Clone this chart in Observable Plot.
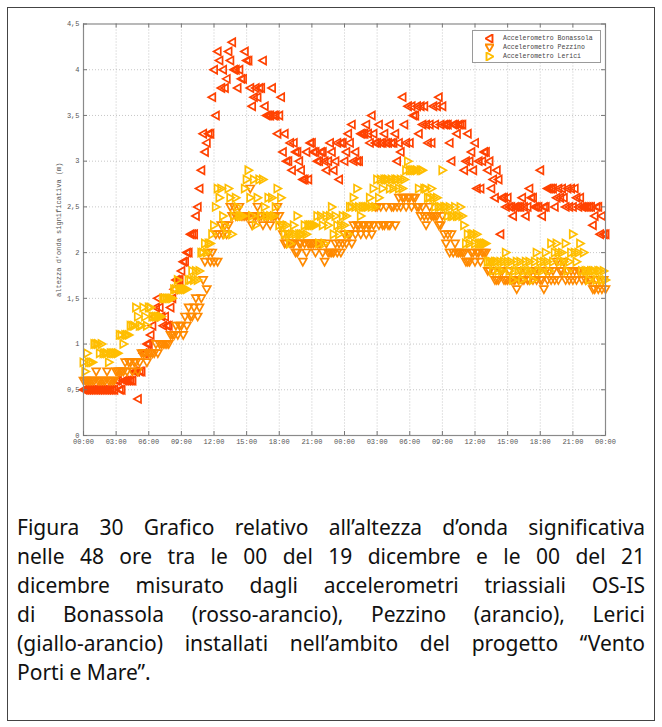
<!DOCTYPE html>
<html>
<head>
<meta charset="utf-8">
<script src="https://cdn.jsdelivr.net/npm/d3@7"></script>
<script src="https://cdn.jsdelivr.net/npm/@observablehq/plot@0.6"></script>
<style>
  html, body { margin: 0; padding: 0; background: #fff; }
  #page { position: relative; width: 662px; height: 727px; overflow: hidden; background: #fff; }
  #border { position: absolute; left: 7px; top: 7px; width: 646px; height: 712px; border: 1px solid #444; pointer-events: none; z-index: 5; }
  #chart { position: absolute; left: 0; top: 0; }
  #legend { position: absolute; left: 472px; top: 30px; width: 127px; height: 31px;
            border: 1px solid #9a9a9a; background: #fff;
            font: 6.5px "Liberation Mono", "DejaVu Sans Mono", monospace; color: #444; }
  #legend .row { position: absolute; left: 0; height: 9px; width: 127px; }
  #legend svg { position: absolute; left: 12px; top: 0; }
  #legend span { position: absolute; left: 30px; top: 1px; white-space: nowrap; }
  #caption { position: absolute; left: 17px; top: 513px; width: 628px;
             font: 21px "Comic Sans MS", "Noto Sans", sans-serif; line-height: 29px; color: #111; }
  #caption div { white-space: nowrap; text-align: justify; text-align-last: justify; }
  #caption div.last { text-align-last: left; }
</style>
</head>
<body>
<div id="page">
  <div id="chart"></div>
  <div id="legend"></div>
  <div id="caption"></div>
  <div id="border"></div>
</div>
<script>
// Significant wave height (m), one reading every 10 minutes, 00:00 19 Dec -> 00:00 21 Dec.
// Rows hold one hour (6 readings); the last row is the closing reading at 48 h.
const bonassola = [
  0.5,0.5,0.5,0.5,0.5,0.5,
  0.5,0.5,0.5,0.5,0.5,0.5,
  0.5,0.5,0.5,0.5,0.5,0.5,
  0.6,0.6,0.5,0.5,0.6,0.6,
  0.6,0.6,0.6,0.6,0.7,0.7,
  0.4,0.7,0.7,0.9,0.9,1.0,
  1.0,1.1,1.2,1.3,1.4,1.5,
  1.4,1.3,1.2,1.3,1.2,1.2,
  1.4,1.5,1.6,1.7,1.7,1.7,
  1.8,1.9,1.9,2.0,2.0,2.2,
  2.2,2.2,2.4,2.5,2.7,2.9,
  3.3,3.1,3.2,3.3,3.3,3.7,
  4.0,3.5,4.2,4.1,3.8,4.0,
  3.8,3.9,4.2,4.1,4.3,4.0,
  4.0,3.8,4.0,3.9,3.9,4.2,
  4.1,4.1,3.8,3.6,3.7,3.8,
  3.7,3.8,3.8,4.1,3.6,3.5,
  3.5,3.5,3.8,3.5,3.5,3.3,
  3.5,3.7,3.1,3.3,3.0,3.0,
  3.2,2.9,3.2,3.1,3.1,3.0,
  2.9,2.8,2.8,3.1,2.8,3.2,
  3.2,3.1,3.1,3.0,3.0,3.1,
  3.1,3.0,2.9,3.0,3.2,3.1,
  2.9,3.0,3.2,2.8,3.2,3.2,
  3.0,3.1,3.3,3.2,3.4,3.0,
  3.1,3.0,3.0,3.3,3.3,3.3,
  3.4,3.3,3.2,3.5,3.3,3.2,
  3.2,3.4,3.2,3.2,3.3,3.2,
  3.2,3.4,3.2,3.2,3.3,3.0,
  3.2,3.1,3.7,3.4,3.2,3.6,
  3.2,3.6,3.5,3.5,3.6,3.3,
  3.6,3.4,3.6,3.4,3.2,3.4,
  3.2,3.6,3.4,3.6,3.7,3.4,
  3.6,3.4,3.4,3.4,3.2,3.0,
  3.4,3.4,3.3,3.4,3.4,3.4,
  2.9,3.0,3.3,3.0,3.1,2.9,
  3.2,2.7,3.0,2.7,3.0,3.1,
  3.1,2.9,3.0,2.7,2.8,2.6,
  2.9,2.8,2.2,2.6,2.6,2.5,
  2.6,2.5,2.5,2.4,2.5,2.5,
  2.5,2.5,2.6,2.5,2.4,2.5,
  2.7,2.6,2.6,2.5,2.5,2.5,
  2.9,2.4,2.5,2.5,2.7,2.7,
  2.7,2.7,2.5,2.6,2.7,2.6,
  2.7,2.6,2.5,2.7,2.5,2.7,
  2.5,2.7,2.6,2.5,2.6,2.5,
  2.5,2.5,2.5,2.5,2.5,2.3,
  2.4,2.5,2.5,2.2,2.4,2.2,
  2.2
];
const pezzino = [
  0.6,0.6,0.6,0.6,0.6,0.6,
  0.6,0.7,0.6,0.6,0.6,0.6,
  0.6,0.7,0.6,0.6,0.6,0.6,
  0.7,0.7,0.7,0.7,0.7,0.8,
  0.7,0.8,0.8,0.7,0.8,0.8,
  0.7,0.8,0.9,0.9,0.9,0.8,
  0.9,0.9,0.9,0.9,1.0,0.9,
  1.0,1.0,1.0,1.0,1.0,1.0,
  1.1,1.1,1.1,1.2,1.1,1.2,
  1.2,1.1,1.3,1.2,1.4,1.3,
  1.3,1.4,1.5,1.3,1.4,1.5,
  1.7,1.9,1.6,2.0,1.9,2.0,
  1.9,2.2,1.9,2.2,2.3,2.2,
  2.3,2.2,2.3,2.5,2.4,2.5,
  2.4,2.4,2.5,2.4,2.4,2.4,
  2.4,2.4,2.7,2.3,2.4,2.4,
  2.5,2.4,2.4,2.3,2.4,2.4,
  2.4,2.3,2.4,2.4,2.4,2.5,
  2.4,2.3,2.2,2.1,2.1,2.2,
  2.1,2.1,2.1,2.0,2.0,2.1,
  2.1,1.9,2.1,2.0,2.1,2.1,
  2.1,2.1,2.0,2.1,2.1,2.1,
  2.0,1.9,2.1,2.0,2.0,2.0,
  2.0,2.1,2.0,2.1,2.0,2.1,
  2.2,2.1,2.2,2.2,2.1,2.3,
  2.2,2.3,2.3,2.2,2.3,2.3,
  2.2,2.3,2.3,2.2,2.3,2.5,
  2.5,2.3,2.5,2.3,2.3,2.5,
  2.3,2.3,2.5,2.5,2.3,2.5,
  2.6,2.5,2.6,2.6,2.5,2.6,
  2.6,2.5,2.6,2.6,2.5,2.5,
  2.4,2.5,2.4,2.3,2.4,2.5,
  2.4,2.4,2.4,2.4,2.3,2.3,
  2.4,2.2,2.1,2.2,2.0,2.2,
  2.0,2.1,2.0,2.0,2.0,2.0,
  2.0,1.9,1.9,1.9,2.0,2.0,
  1.9,2.0,2.0,1.9,2.0,2.0,
  2.0,1.8,1.8,1.9,1.8,1.7,
  1.7,1.7,1.8,1.8,1.7,1.7,
  1.7,1.8,1.7,1.7,1.7,1.6,
  1.7,1.8,1.7,1.7,1.8,1.7,
  1.7,1.8,1.7,1.8,1.7,1.8,
  1.7,1.7,1.6,1.8,1.7,1.8,
  1.7,1.8,1.7,1.9,1.7,1.8,
  1.8,1.9,1.7,1.8,1.7,1.8,
  1.7,1.8,1.7,1.8,1.8,1.7,
  1.8,1.7,1.8,1.7,1.7,1.6,
  1.6,1.7,1.6,1.7,1.6,1.7,
  1.6
];
const lerici = [
  0.8,0.7,0.9,0.8,0.8,0.8,
  1.0,1.0,1.0,0.9,1.0,0.9,
  0.9,0.9,0.8,0.9,0.9,0.9,
  0.9,0.9,1.1,1.1,1.0,1.1,
  1.1,1.1,1.2,1.2,1.2,1.4,
  1.3,1.2,1.2,1.4,1.3,1.2,
  1.4,1.4,1.3,1.3,1.3,1.3,
  1.3,1.3,1.5,1.5,1.5,1.5,
  1.5,1.5,1.6,1.6,1.7,1.6,
  1.6,1.6,1.6,1.6,1.7,1.7,
  1.8,1.7,1.8,1.7,1.8,2.0,
  2.0,2.1,2.0,2.1,2.1,2.2,
  2.3,2.5,2.7,2.6,2.7,2.4,
  2.3,2.2,2.7,2.6,2.2,2.4,
  2.6,2.5,2.4,2.4,2.4,2.7,
  2.8,2.9,2.6,2.4,2.8,2.3,
  2.6,2.8,2.4,2.8,2.5,2.4,
  2.6,2.4,2.6,2.4,2.5,2.7,
  2.3,2.6,2.3,2.2,2.3,2.2,
  2.1,2.2,2.3,2.2,2.4,2.2,
  2.2,2.2,2.3,2.2,2.3,2.3,
  2.3,2.3,2.3,2.4,2.1,2.4,
  2.3,2.1,2.4,2.3,2.4,2.5,
  2.2,2.4,2.3,2.2,2.3,2.4,
  2.3,2.4,2.2,2.5,2.5,2.6,
  2.5,2.7,2.5,2.4,2.5,2.5,
  2.5,2.5,2.6,2.5,2.7,2.5,
  2.8,2.6,2.8,2.7,2.8,2.8,
  2.8,2.7,2.8,2.7,2.8,2.8,
  2.7,2.8,2.7,2.8,2.9,3.0,
  2.9,2.9,2.9,2.9,2.9,2.7,
  2.9,2.9,2.7,2.7,2.6,2.6,
  2.7,2.6,2.5,2.6,2.5,2.5,
  2.9,2.5,2.5,2.4,2.5,2.4,
  2.4,2.5,2.4,2.4,2.5,2.4,
  2.3,2.1,2.2,2.1,2.2,2.2,
  2.1,2.2,2.1,2.1,2.1,2.1,
  2.1,1.9,1.9,1.9,1.8,1.9,
  1.9,1.8,1.9,1.8,1.9,2.0,
  1.9,1.8,1.9,1.7,1.8,1.9,
  1.8,1.9,1.7,1.8,1.9,1.8,
  1.9,1.8,1.7,1.9,2.0,1.8,
  1.9,1.8,1.9,2.0,1.9,1.8,
  2.1,1.9,2.0,2.1,2.0,1.9,
  2.0,1.9,2.1,1.8,1.9,2.0,
  2.2,2.0,1.9,2.0,2.1,1.8,
  2.0,1.8,1.8,1.7,1.8,1.8,
  1.8,1.7,1.8,1.8,1.7,1.8,
  1.7
];

const seriesNames = ["Accelerometro Bonassola", "Accelerometro Pezzino", "Accelerometro Lerici"];
const seriesColors = ["#ff4200", "#ff8a00", "#ffbe00"];
const stepHours = 1 / 6;

// axis ticks: every 3 hours over the 48 hours, every 0.5 m in height
const xTicks = [0, 3, 6, 9, 12, 15, 18, 21, 24, 27, 30, 33, 36, 39, 42, 45, 48];
const xTickLabels = ["00:00","03:00","06:00","09:00","12:00","15:00","18:00","21:00",
                     "00:00","03:00","06:00","09:00","12:00","15:00","18:00","21:00","00:00"];
const yTicks = [0, 0.5, 1, 1.5, 2, 2.5, 3, 3.5, 4, 4.5];
const yTickLabels = ["0","0,5","1","1,5","2","2,5","3","3,5","4","4,5"];
const yTitle = "altezza d'onda significativa (m)";

const captionLines = [
  "Figura 30 Grafico relativo all\u2019altezza d\u2019onda significativa",
  "nelle 48 ore tra le 00 del 19 dicembre e le 00 del 21",
  "dicembre misurato dagli accelerometri triassiali OS-IS",
  "di Bonassola (rosso-arancio), Pezzino (arancio), Lerici",
  "(giallo-arancio) installati nell\u2019ambito del progetto \u201cVento",
  "Porti e Mare\u201d."
];

// open triangles pointing left, down and right
function triangle(dir) {
  return {
    draw(ctx, size) {
      const r = Math.sqrt(size / Math.PI);
      const b = r * 0.78;
      if (dir === "left") { ctx.moveTo(-r, 0); ctx.lineTo(b, -r); ctx.lineTo(b, r); }
      else if (dir === "down") { ctx.moveTo(0, r); ctx.lineTo(-r, -b); ctx.lineTo(r, -b); }
      else { ctx.moveTo(r, 0); ctx.lineTo(-b, -r); ctx.lineTo(-b, r); }
      ctx.closePath();
    }
  };
}
const symbols = [triangle("left"), triangle("down"), triangle("right")];

const rowsOf = (values) => values.map((v, i) => ({hour: i * stepHours, h: v}));
const series = [bonassola, pezzino, lerici].map(rowsOf);

const W = 662, H = 455;
const mL = 83, mR = 57, mT = 23.5, mB = 20;
const innerW = W - mL - mR, innerH = H - mT - mB;
const tickLen = 4;
const xLabel = new Map(xTicks.map((d, i) => [d, xTickLabels[i]]));
const yLabel = new Map(yTicks.map((d, i) => [d, yTickLabels[i]]));
const grid = {stroke: "#b8b8b8", strokeOpacity: 1, strokeWidth: 0.8, strokeDasharray: "1,2"};

const chart = Plot.plot({
  width: W, height: H,
  marginLeft: mL, marginRight: mR, marginTop: mT, marginBottom: mB,
  style: {fontFamily: "'Liberation Mono', 'DejaVu Sans Mono', monospace", fontSize: "7px", color: "#555", background: "#fff"},
  x: {domain: [0, 48]},
  y: {domain: [0, 4.5]},
  marks: [
    Plot.gridX(xTicks.slice(1, -1), grid),
    Plot.gridY(yTicks.slice(1, -1), grid),
    ...series.map((rows, k) => Plot.dot(rows, {
      x: "hour", y: "h", r: 4, symbol: symbols[k],
      stroke: seriesColors[k], strokeWidth: 1.7, fill: "none"
    })),
    Plot.frame({stroke: "#8a8a8a", strokeWidth: 1.2}),
    Plot.tickX(xTicks, {x: d => d, stroke: "#777", insetTop: innerH - tickLen}),
    Plot.tickX(xTicks, {x: d => d, stroke: "#777", insetBottom: innerH - tickLen}),
    Plot.tickY(yTicks, {y: d => d, stroke: "#777", insetRight: innerW - tickLen}),
    Plot.tickY(yTicks, {y: d => d, stroke: "#777", insetLeft: innerW - tickLen}),
    Plot.axisX(xTicks, {tickSize: 0, tickPadding: 4, tickFormat: d => xLabel.get(d), label: null}),
    Plot.axisY(yTicks, {tickSize: 0, tickPadding: 4, tickFormat: d => yLabel.get(d),
      label: yTitle, labelAnchor: "center", labelOffset: 27, labelArrow: "none"})
  ]
});
document.getElementById("chart").appendChild(chart);

// legend box in the top-right corner of the plot
const legend = document.getElementById("legend");
const legendPaths = ["M0,4 L7,0 L7,8 Z", "M4,8 L0,1 L8,1 Z", "M8,4 L1,0 L1,8 Z"];
seriesNames.forEach((name, k) => {
  const row = document.createElement("div");
  row.className = "row";
  row.style.top = (3 + k * 9) + "px";
  row.innerHTML = `<svg width="9" height="9" viewBox="-0.5 -0.5 9 9"><path d="${legendPaths[k]}" fill="none" stroke="${seriesColors[k]}" stroke-width="1.9"/></svg><span>${name}</span>`;
  legend.appendChild(row);
});

const caption = document.getElementById("caption");
captionLines.forEach((line, i) => {
  const div = document.createElement("div");
  div.textContent = line;
  if (i === captionLines.length - 1) div.className = "last";
  caption.appendChild(div);
});
</script>
</body>
</html>
